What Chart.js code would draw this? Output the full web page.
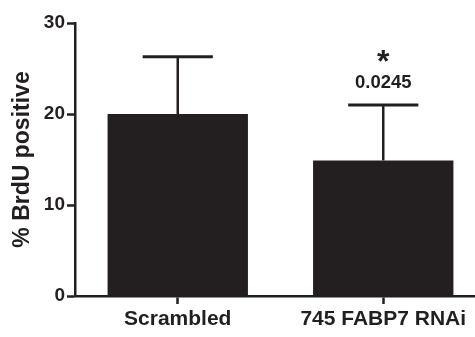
<!DOCTYPE html>
<html>
<head>
<meta charset="utf-8">
<script src="https://cdn.jsdelivr.net/npm/chart.js@4/dist/chart.umd.min.js"></script>
<style>
    html, body { margin: 0; padding: 0; background: #fff; overflow: hidden; }
    #wrap { width: 486px; height: 337px; }
</style>
</head>
<body>
<div id="wrap"><canvas id="chart"></canvas></div>
<script>
// Data
const categories = ['Scrambled', '745 FABP7 RNAi'];
const meanValues = [20.0, 14.9];
const errorTops = [26.3, 21.0];
const yTicks = [0, 10, 20, 30];
const pValueLabels = ['', '0.0245'];
const starLabels = ['', '*'];

const ink = '#231f20';
const fontFamily = 'Arial, "Liberation Sans", Helvetica, sans-serif';

// Upper error bars plus significance marks, drawn through the scales
const errorBarPlugin = {
    id: 'errorBars',
    afterDatasetsDraw(chart) {
        const ctx = chart.ctx;
        const yScale = chart.scales.y;
        const meta = chart.getDatasetMeta(0);

        ctx.save();
        ctx.strokeStyle = ink;
        ctx.fillStyle = ink;
        ctx.lineWidth = 2.5;

        meta.data.forEach((bar, i) => {
            const x = bar.x;
            const yTop = yScale.getPixelForValue(errorTops[i]);
            const capHalf = bar.width / 4;

            ctx.beginPath();
            ctx.moveTo(x, bar.y);
            ctx.lineTo(x, yTop);
            ctx.stroke();

            ctx.lineWidth = 3;
            ctx.beginPath();
            ctx.moveTo(x - capHalf, yTop);
            ctx.lineTo(x + capHalf, yTop);
            ctx.stroke();
            ctx.lineWidth = 2.5;

            ctx.textAlign = 'center';
            ctx.textBaseline = 'middle';
            if (pValueLabels[i]) {
                ctx.font = 'bold 18.5px ' + fontFamily;
                ctx.fillText(pValueLabels[i], x, yTop - 22);
            }
            if (starLabels[i]) {
                ctx.font = 'bold 32px ' + fontFamily;
                ctx.fillText(starLabels[i], x, yTop - 42);
            }
        });
        ctx.restore();
    }
};

const ctx = document.getElementById('chart').getContext('2d');

new Chart(ctx, {
    type: 'bar',
    data: {
        labels: categories,
        datasets: [{
            data: meanValues,
            backgroundColor: ink,
            borderWidth: 0,
            categoryPercentage: 1,
            barPercentage: 0.683
        }]
    },
    options: {
        responsive: true,
        maintainAspectRatio: false,
        animation: false,
        layout: {
            padding: { top: 23, left: 0, right: 0, bottom: 0 }
        },
        plugins: {
            legend: { display: false },
            tooltip: { enabled: false }
        },
        scales: {
            x: {
                offset: true,
                grid: {
                    offset: false,
                    drawOnChartArea: false,
                    tickLength: 8,
                    tickWidth: 2.5,
                    tickColor: ink
                },
                border: { color: ink, width: 2.5 },
                ticks: {
                    color: ink,
                    padding: 3,
                    maxRotation: 0,
                    font: { family: fontFamily, size: 21, weight: 'bold' }
                },
                afterFit: (scale) => { scale.height = 41; }
            },
            y: {
                min: 0,
                max: 30,
                afterBuildTicks: (scale) => {
                    scale.ticks = yTicks.map(v => ({ value: v }));
                },
                grid: {
                    drawOnChartArea: false,
                    tickLength: 8,
                    tickWidth: 2.5,
                    tickColor: ink
                },
                border: { color: ink, width: 2.5 },
                ticks: {
                    color: ink,
                    padding: 2,
                    font: { family: fontFamily, size: 19, weight: 'bold' }
                },
                title: {
                    display: true,
                    text: '% BrdU positive',
                    color: ink,
                    padding: { top: 9, bottom: 0 },
                    font: { family: fontFamily, size: 23, weight: 'bold' }
                },
                afterFit: (scale) => { scale.width = 75; }
            }
        }
    },
    plugins: [errorBarPlugin]
});
</script>
</body>
</html>
